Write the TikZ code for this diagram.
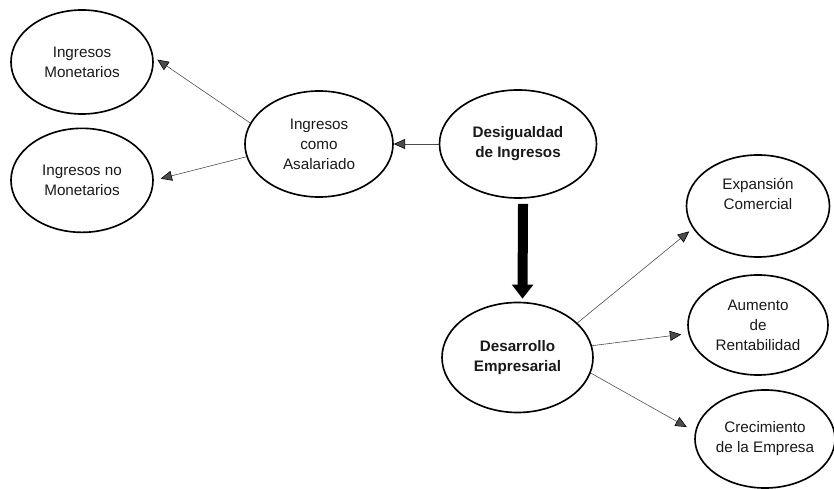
\documentclass[tikz,border=0pt]{standalone}
\usepackage{fontspec}
\setmainfont{Liberation Sans}
\usepackage{tikz}
\usetikzlibrary{shapes.geometric,arrows.meta,positioning}

\tikzset{
  bubble/.style={ellipse, draw, line width=1.4pt, text=black!90, align=center,
    inner sep=0pt, minimum width=4.3cm, minimum height=3.15cm,
    font=\fontsize{13}{17}\selectfont},
  key/.style={font=\fontsize{13}{17}\selectfont\bfseries},
  link/.style={-{Triangle[length=0.34cm,width=0.3cm,color=black]}, line width=0.5pt, black!70},
  bigarrow/.style={-{Triangle[length=0.42cm,width=0.62cm]}, line width=0.3cm, draw=black}
}

\begin{document}
\begin{tikzpicture}[x=0.03cm, y=-0.03cm, node distance=3.55cm, on grid]
                \useasboundingbox (0,0) rectangle (834,489);
                \node[bubble, minimum width=4.26cm, minimum height=3.12cm] (mon) at (82,62) {Ingresos\\Monetarios};
                \node[bubble, minimum width=4.26cm, minimum height=3.12cm] (nomon) [below=of mon] {Ingresos no\\Monetarios};
                \node[bubble, minimum width=4.44cm, minimum height=3.18cm] (asal) at (319,144) {Ingresos\\como\\Asalariado};
                \node[bubble, key, minimum width=4.71cm, minimum height=3.24cm] (desig) [right=5.97cm of asal] {Desigualdad\\de Ingresos};
                \node[bubble, key, minimum width=4.53cm, minimum height=3.3cm] (desar) at (517.5,357.5) {Desarrollo\\Empresarial};
                \node[bubble, minimum width=4.2cm, minimum height=3.0cm] (aum) at (758,325) {Aumento\\de\\Rentabilidad};
                \node[bubble, minimum width=4.29cm, minimum height=3.06cm] (exp) [above=3.57cm of aum] {Expansión\\Comercial\\[4pt]};
                \node[bubble, minimum width=4.2cm, minimum height=2.94cm] (crec) at (765,439) {Crecimiento\\de la Empresa};

                \path[link] (desig.west) edge (asal.east)
                            (asal.163) edge[shorten >=4pt] (mon.4)
                            (asal.190) edge[shorten >=6pt] (nomon.east)
                            (desar.30) edge[shorten >=4pt] (exp.199)
                            (desar.9) edge[shorten >=6pt] (aum.187)
                            (desar.348) edge[shorten >=8pt] (crec.174);
                \draw[bigarrow] ([xshift=0.15cm, yshift=-0.15cm]desig.south) -- ([xshift=0.15cm, yshift=0.09cm]desar.north);
            \end{tikzpicture}
\end{document}
